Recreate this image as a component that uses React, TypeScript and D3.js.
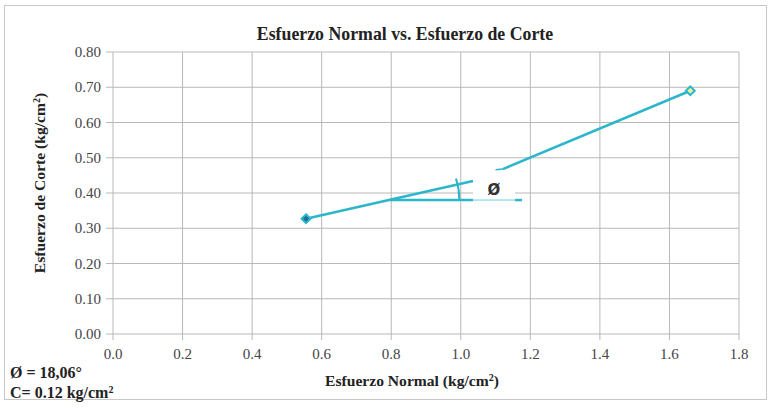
import React from "react";
import * as d3 from "d3";

const xTicks = [0, 0.2, 0.4, 0.6, 0.8, 1.0, 1.2, 1.4, 1.6, 1.8];
const yTicks = [0, 0.1, 0.2, 0.3, 0.4, 0.5, 0.6, 0.7, 0.8];
const pointsX = [0.555, 1.66];
const pointsY = [0.327, 0.69];
// drawn (annotated) line pieces as in the picture
const seg1X = [0.555, 1.035];
const seg1Y = [0.327, 0.434];
const seg2X = [1.121, 1.66];
const seg2Y = [0.468, 0.69];
const fragX = [1.10, 1.121];
const fragY = [0.466, 0.468];
const horizY = 0.38;
const horizThickX = [0.796, 1.035];
const horizThinX = [1.035, 1.156];
const horizDashX = [1.156, 1.176];
const arcCenterX = 0.796;
const arcRadiusX = 0.2;
const arcAngleDeg = 18.06;
const labelBoxX = [1.035, 1.156];
const labelBoxY = [0.365, 0.457];

const W = 771, H = 407;
const M = { left: 113, right: 739, top: 52, bottom: 334 };
const SERIF = "Liberation Serif, Times New Roman, Times, DejaVu Serif, serif";
const CYAN = "#2cb6cb";

export default function App() {
  const x = d3.scaleLinear().domain([0, 1.8]).range([M.left, M.right]);
  const y = d3.scaleLinear().domain([0, 0.8]).range([M.bottom, M.top]);
  const line = d3.line<[number, number]>().x(d => x(d[0])).y(d => y(d[1]));
  const cx = x(arcCenterX), cy = y(horizY);
  const r = x(arcCenterX + arcRadiusX) - cx;
  const arc = d3.arc()({
    innerRadius: r, outerRadius: r,
    startAngle: Math.PI / 2 - (arcAngleDeg * Math.PI) / 180,
    endAngle: Math.PI / 2,
  } as any) as string;
  const diamond = d3.symbol().type(d3.symbolDiamond2 || d3.symbolDiamond).size(50)() as string;
  const serif = { fontFamily: SERIF };

  return (
    <svg width={W} height={H} style={{ position: "absolute", left: 0, top: 0, background: "#fff" }}>
      <rect x={4.5} y={5.5} width={762} height={394} fill="#fff" stroke="#c8c8c8" strokeWidth={1} />
      <text x={405} y={40} textAnchor="middle" style={serif} fontWeight="bold" fontSize={17.8} fill="#222">
        Esfuerzo Normal vs. Esfuerzo de Corte
      </text>
      {yTicks.map(t => (
        <line key={"gy" + t} x1={M.left - 7} x2={M.right} y1={y(t)} y2={y(t)} stroke="#b8b8b8" strokeWidth={1} />
      ))}
      {xTicks.map(t => (
        <line key={"gx" + t} x1={x(t)} x2={x(t)} y1={M.top} y2={M.bottom + 6} stroke="#b8b8b8" strokeWidth={1} />
      ))}
      {yTicks.map(t => (
        <text key={"ly" + t} x={101} y={y(t) + 5} textAnchor="end" style={serif} fontSize={15} fill="#444">
          {t.toFixed(2)}
        </text>
      ))}
      {xTicks.map(t => (
        <text key={"lx" + t} x={x(t)} y={359} textAnchor="middle" style={serif} fontSize={15} fill="#444">
          {t.toFixed(1)}
        </text>
      ))}
      <text transform={`translate(45,${183}) rotate(-90)`} textAnchor="middle" style={serif} fontWeight="bold" fontSize={15.6} fill="#222">
        Esfuerzo de Corte (kg/cm<tspan baselineShift="super" fontSize={10}>2</tspan>)
      </text>
      <text x={412} y={386} textAnchor="middle" style={serif} fontWeight="bold" fontSize={15.6} fill="#222">
        Esfuerzo Normal (kg/cm<tspan baselineShift="super" fontSize={10}>2</tspan>)
      </text>
      <text x={10} y={378} style={serif} fontWeight="bold" fontSize={16} fill="#222">Ø = 18,06°</text>
      <text x={10} y={398} style={serif} fontWeight="bold" fontSize={16} fill="#222">
        C= 0.12 kg/cm<tspan baselineShift="super" fontSize={10}>2</tspan>
      </text>

      <rect x={x(labelBoxX[0])} y={y(labelBoxY[1])} width={x(labelBoxX[1]) - x(labelBoxX[0])}
        height={y(labelBoxY[0]) - y(labelBoxY[1])} fill="#fff" />
      <path d={line([[horizThickX[0], horizY], [horizThickX[1], horizY]])!} stroke={CYAN} strokeWidth={2.5} fill="none" />
      <path d={line([[horizThinX[0], horizY], [horizThinX[1], horizY]])!} stroke={CYAN} strokeWidth={1} fill="none" opacity={0.7} />
      <path d={line([[horizDashX[0], horizY], [horizDashX[1], horizY]])!} stroke={CYAN} strokeWidth={2.5} fill="none" />
      <path d={arc} transform={`translate(${cx},${cy})`} stroke={CYAN} strokeWidth={2} fill="none" />
      <text x={494} y={195} textAnchor="middle" fontFamily="DejaVu Sans, sans-serif" fontWeight="bold" fontSize={15} fill="#333">Ø</text>

      <path d={line(seg1X.map((v, i) => [v, seg1Y[i]]) as [number, number][])!} stroke={CYAN} strokeWidth={2.5} fill="none" />
      <path d={line(seg2X.map((v, i) => [v, seg2Y[i]]) as [number, number][])!} stroke={CYAN} strokeWidth={2.5} fill="none" />
      <path d={line(fragX.map((v, i) => [v, fragY[i]]) as [number, number][])!} stroke={CYAN} strokeWidth={1.5} fill="none" />
      {pointsX.map((v, i) => (
        <path key={"p" + i} d={diamond} transform={`translate(${x(v)},${y(pointsY[i])})`}
          fill={i === 0 ? "#1f6f96" : "#e4efa0"} stroke={CYAN} strokeWidth={2} />
      ))}
    </svg>
  );
}
